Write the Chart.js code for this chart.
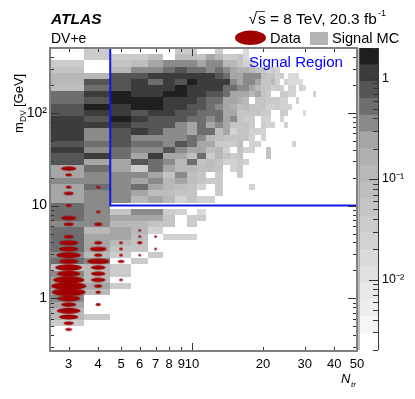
<!DOCTYPE html>
<html>
<head>
<meta charset="utf-8">
<script src="https://cdn.jsdelivr.net/npm/chart.js@4"></script>
<style>
  html, body { margin: 0; padding: 0; background: #fff; }
  #wrap { position: relative; width: 415px; height: 399px; overflow: hidden; }
  #mainChart { position: absolute; left: 0; top: 0; }
  #colorBar { position: absolute; left: 350px; top: 28px; }
</style>
</head>
<body>
<div id="wrap">
  <canvas id="mainChart" width="415" height="399"></canvas>
  <canvas id="colorBar" width="65" height="371"></canvas>
</div>
<script>
// Ntr tick values and labels
const xTickValues = [3, 4, 5, 6, 7, 8, 9, 10, 20, 30, 40, 50];
const yTickValues = [1, 10, 100];
const yTickLabels = ["1", "10", "10\u00B2"];
const colorTickValues = [1, 0.1, 0.01];
const colorTickLabels = ["1", "10\u207B\u00B9", "10\u207B\u00B2"];

// signal region boundary
const regionN = [4.5, 4.5, 50];
const regionM = [500, 10, 10];

// colour bar: one grey per band, lightest band first
const bandGreys = ["#ffffff", "#f6f6f6", "#eeeeee", "#e8e8e8", "#e0e0e0", "#dadada", "#d2d2d2", "#cbcbcb", "#c4c4c4",
  "#bebebe", "#b8b8b8", "#b0b0b0", "#a6a6a6", "#8a8a8a", "#6e6e6e", "#555555", "#3c3c3c", "#1f1f1f"];
const bandsPerDecade = 6;
const zMax = 2;

// mass bins: 15 per decade going down from 500 GeV
const massTop = 500;
const massBinsPerDecade = 15;
const massBinCount = 49;
const firstN = 3;

// signal MC, one list per mass bin from the top, first entry is Ntr = 3, value is the colour band
const signalBands = [
  [0,7,0,0,0,0,7,7,0,0,7,0,0,0,5],
  [0,7,7,7,9,0,9,9,8,12,10,7,7,8,5],
  [7,0,8,9,12,13,13,13,12,13,13,10,10,8,6,6],
  [8,0,10,13,13,14,15,14,14,13,14,13,12,11,11,10,8,8,6,7,6],
  [10,10,15,15,16,16,16,16,16,16,15,14,12,12,13,13,13,9,8,8,6,7,0,5,5,5],
  [10,15,15,16,14,16,15,17,16,16,16,16,13,12,13,13,12,8,8,10,6,0,6,5,5,5,5],
  [9,14,15,16,16,16,17,16,16,16,16,14,14,13,13,12,10,8,8,6,7,6,0,6,6,0,6,5],
  [14,16,17,16,16,17,17,16,16,15,15,14,12,12,12,10,12,8,7,0,0,7,7,6,6,0,0,0,0,0,6],
  [14,15,17,17,17,16,16,16,15,14,14,12,12,11,10,0,8,8,7,7,7,6,6,0,0,6],
  [15,17,16,17,17,16,16,15,15,14,13,12,11,9,10,8,8,8,6,6,7,6,6,6],
  [15,16,16,15,16,16,15,15,14,14,14,12,12,8,8,8,8,7,7,0,0,7,7,0,0,0,0,5],
  [16,15,17,16,15,15,15,14,14,13,14,12,13,8,7,7,0,6,6,0,0,6],
  [16,16,16,15,15,15,13,12,14,12,13,12,8,8,8,7,0,7,6,6,0,0,6],
  [16,13,15,16,15,13,13,12,14,14,9,12,6,8,8,6,6,6],
  [16,13,15,13,13,13,13,14,13,10,9,8,8,8,8,6,0,6],
  [15,14,15,14,14,13,15,14,12,12,7,7,7,9,0,6,6,0,0,0,0,0,0,0,6],
  [16,13,14,13,13,15,13,12,12,9,10,6,0,8,6,6,0,0,8],
  [15,16,14,12,16,12,12,9,14,7,10,8,7,8,0,0,0,0,8],
  [15,12,12,15,14,13,10,14,8,9,8,6,6,7,6],
  [12,14,12,7,14,12,10,10,9,9,8,0,6,7],
  [12,13,13,13,12,8,13,9,8,0,7,0,0,7],
  [13,13,13,12,13,10,12,9,8,7,7],
  [12,14,13,14,12,10,9,8,6,0,7,0,0,0,0,6],
  [12,13,13,12,9,9,8,8,0,0,7],
  [12,13,13,10,12,10,6,8,6,6],
  [14,13],
  [14,13,8,13,13,7,6,0,5],
  [14,13,12,12,12,8,0,7,7],
  [13,13,10,10,8,8,0,7],
  [14,10,12,10,6],
  [14,12,12,9,0,6,6,6],
  [14,12,10,8],
  [14,12,8,8],
  [13,10,7,0,7],
  [14,13,0,7],
  [9,10,7],
  [13,10,7],
  [12,10,0],
  [12,12,7],
  [12,10],
  [13],
  [12],
  [10],
  [10,7],
  [7],
];

// data: Ntr, mass bin index from the top, events in the bin
const dataN = [3,3,3,3,3,3,3,3,3,3,3,3,3,3,3,3,3,3,3,3,3,3,3,
  4,4,4,4,4,4,4,4,4,4,4,4,4,
  5,5,5,5,5, 6,6,6,6, 7,7];
const dataBin = [19,20,22,23,25,27,28,30,31,32,33,34,35,36,37,38,39,40,41,42,43,44,45,
  22,26,28,31,32,33,34,35,36,37,38,39,41,
  31,32,33,34,37, 29,30,31,33, 30,32];
const dataCount = [33,6,5,14,5,33,14,14,52,52,85,52,100,81,138,175,162,81,33,81,52,14,6,
  3,3,9,9,39,9,72,30,30,30,9,4,4,
  2,2,2,6,2, 1,1,4,1, 1,1];

function massEdge(bin) {
  return massTop * Math.pow(10, -bin / massBinsPerDecade);
}

// each ellipse gets its own little canvas for the point style
function ellipseFor(count) {
  const w = Math.sqrt(count) * 2.67;
  const h = 2 + 0.16 * w;
  const c = document.createElement("canvas");
  c.width = Math.ceil(w) + 2;
  c.height = Math.ceil(h) + 2;
  const g = c.getContext("2d");
  g.fillStyle = "#a00000";
  g.beginPath();
  g.ellipse(c.width / 2, c.height / 2, w / 2, h / 2, 0, 0, Math.PI * 2);
  g.fill();
  return c;
}

// draws signal cells under the datasets, through the scales
const cellPlugin = {
  id: "cells",
  beforeDatasetsDraw(chart) {
    const { ctx, scales: { x, y } } = chart;
    ctx.save();
    signalBands.forEach((row, r) => {
      const top = Math.round(y.getPixelForValue(massEdge(r)));
      const bottom = Math.round(y.getPixelForValue(massEdge(r + 1)));
      row.forEach((band, i) => {
        if (!band) return;
        const n = firstN + i;
        const left = Math.round(x.getPixelForValue(n - 0.5));
        const right = Math.round(x.getPixelForValue(n + 0.5));
        ctx.fillStyle = bandGreys[band];
        ctx.fillRect(left, top, right - left, bottom - top);
      });
    });
    ctx.restore();
  },
};

function drawTick(ctx, x1, y1, x2, y2) {
  ctx.beginPath();
  ctx.moveTo(x1, y1);
  ctx.lineTo(x2, y2);
  ctx.stroke();
}

// frame, inward ticks and the text around the plot
const framePlugin = {
  id: "frame",
  afterDatasetsDraw(chart) {
    const { ctx, chartArea: a, scales: { x, y } } = chart;
    ctx.save();
    ctx.strokeStyle = "#333";
    ctx.lineWidth = 1;
    [3, 4, 5, 6, 7, 8, 9, 10, 20, 30, 40].forEach((v) => {
      const px = Math.round(x.getPixelForValue(v)) + 0.5;
      const len = v == 10 ? 8 : 4;
      drawTick(ctx, px, a.bottom, px, a.bottom - len);
      drawTick(ctx, px, a.top, px, a.top + len);
    });
    [0.3, 0.4, 0.5, 0.6, 0.7, 0.8, 0.9, 1, 2, 3, 4, 5, 6, 7, 8, 9, 10, 20, 30, 40, 50, 60, 70, 80, 90, 100, 200, 300, 400].forEach((v) => {
      const py = Math.round(y.getPixelForValue(v)) + 0.5;
      const len = yTickValues.includes(v) ? 9 : 4;
      drawTick(ctx, a.left, py, a.left + len, py);
      drawTick(ctx, a.right, py, a.right - len, py);
    });
    ctx.strokeStyle = "#808080";
    ctx.lineWidth = 2;
    ctx.strokeRect(a.left, a.top, a.right - a.left, a.bottom - a.top);
    ctx.restore();

    ctx.save();
    ctx.fillStyle = "#000";
    ctx.textBaseline = "alphabetic";
    ctx.font = "italic bold 15.5px 'Liberation Sans'";
    ctx.fillText("ATLAS", 51, 23.5);
    ctx.font = "14px 'Liberation Sans'";
    ctx.fillText("DV+e", 51, 43);
    ctx.font = "15.4px 'Liberation Sans'";
    ctx.fillText("\u221A", 248.5, 24);
    ctx.fillRect(256, 11, 9, 0.7);
    ctx.fillText("s = 8 TeV, 20.3 fb", 258, 24);
    ctx.font = "9px 'Liberation Sans'";
    ctx.fillText("-1", 378, 15.5);
    ctx.font = "14.6px 'Liberation Sans'";
    ctx.fillText("Data", 270, 43);
    ctx.fillText("Signal MC", 332, 43);
    ctx.fillStyle = "#b4b4b4";
    ctx.fillRect(310, 32, 18, 13);
    ctx.fillStyle = "#a00000";
    ctx.beginPath();
    ctx.ellipse(250.5, 37.8, 15.5, 7.2, 0, 0, Math.PI * 2);
    ctx.fill();
    ctx.fillStyle = "#0000ff";
    ctx.font = "15.1px 'Liberation Sans'";
    ctx.fillText("Signal Region", 249, 67);

    ctx.fillStyle = "#000";
    ctx.font = "italic 13px 'Liberation Sans'";
    ctx.fillText("N", 341, 383);
    ctx.font = "italic 8px 'Liberation Sans'";
    ctx.fillText("tr", 351, 387);

    ctx.translate(23, 133);
    ctx.rotate(-Math.PI / 2);
    ctx.font = "13px 'Liberation Sans'";
    ctx.fillText("m", 0, 0);
    ctx.font = "8.5px 'Liberation Sans'";
    ctx.fillText("DV", 11, 3);
    ctx.font = "13px 'Liberation Sans'";
    ctx.fillText("[GeV]", 26, 0);
    ctx.restore();
  },
};

const configMain = {
  type: "scatter",
  data: {
    datasets: [
      {
        label: "Signal Region",
        type: "line",
        data: regionN.map((n, i) => ({ x: n, y: regionM[i] })),
        borderColor: "#1414e6",
        borderWidth: 2,
        pointRadius: 0,
        fill: false,
        tension: 0,
      },
      {
        label: "Data",
        data: dataN.map((n, i) => ({ x: n, y: Math.sqrt(massEdge(dataBin[i]) * massEdge(dataBin[i] + 1)) })),
        pointStyle: (c) => ellipseFor(dataCount[c.dataIndex]),
        pointRadius: 4,
      },
    ],
  },
  options: {
    responsive: false,
    animation: false,
    events: [],
    layout: { padding: { left: 0, right: 58, top: 48, bottom: 0 } },
    plugins: { legend: { display: false }, tooltip: { enabled: false } },
    scales: {
      x: {
        type: "logarithmic",
        min: 2.5,
        max: 50,
        grid: { display: false, drawTicks: false },
        border: { display: false },
        ticks: {
          autoSkip: false,
          maxRotation: 0,
          color: "#000",
          padding: 6,
          font: { family: "Liberation Sans", size: 13 },
          callback: (v) => String(v),
        },
        afterBuildTicks: (s) => { s.ticks = xTickValues.map((v) => ({ value: v })); },
        afterFit: (s) => { s.height = 48; },
      },
      y: {
        type: "logarithmic",
        min: massEdge(massBinCount),
        max: massTop,
        grid: { display: false, drawTicks: false },
        border: { display: false },
        ticks: {
          autoSkip: false,
          color: "#000",
          padding: 3,
          font: { family: "Liberation Sans", size: 14 },
          callback: (v) => yTickLabels[yTickValues.indexOf(v)],
        },
        afterBuildTicks: (s) => { s.ticks = yTickValues.map((v) => ({ value: v })); },
        afterFit: (s) => { s.width = 50; },
      },
    },
  },
  plugins: [cellPlugin, framePlugin],
};
const mainChart = new Chart(document.getElementById("mainChart"), configMain);

// colour bar is its own little bar chart, floating bars sharing one column
const bandEdges = bandGreys.map((g, i) => zMax * Math.pow(10, -(bandGreys.length - i) / bandsPerDecade));
const colorBarAxis = {
  id: "colorAxis",
  afterDatasetsDraw(chart) {
    const { ctx, chartArea: a, scales: { y } } = chart;
    ctx.save();
    ctx.strokeStyle = "#333";
    ctx.lineWidth = 1;
    drawTick(ctx, a.right + 0.5, a.top, a.right + 0.5, a.bottom);
    [2, 1, 0.9, 0.8, 0.7, 0.6, 0.5, 0.4, 0.3, 0.2, 0.1, 0.09, 0.08, 0.07, 0.06, 0.05, 0.04, 0.03, 0.02, 0.01, 0.009, 0.008, 0.007, 0.006, 0.005, 0.004, 0.003, 0.002].forEach((v) => {
      const py = Math.round(y.getPixelForValue(v)) + 0.5;
      const len = colorTickValues.includes(v) ? 9 : 5;
      drawTick(ctx, a.right - len, py, a.right, py);
    });
    ctx.strokeStyle = "#808080";
    drawTick(ctx, a.left, a.top, a.left, a.bottom);
    ctx.restore();
  },
};
const configColor = {
  type: "bar",
  data: {
    labels: ["z"],
    datasets: bandGreys.map((g, i) => ({
      data: [[bandEdges[i], i == bandGreys.length - 1 ? zMax : bandEdges[i + 1]]],
      backgroundColor: g,
      barPercentage: 1,
      categoryPercentage: 1,
      grouped: false,
    })),
  },
  options: {
    responsive: false,
    animation: false,
    events: [],
    layout: { padding: { left: 9, right: 0, top: 20, bottom: 49 } },
    plugins: { legend: { display: false }, tooltip: { enabled: false } },
    scales: {
      x: { display: false },
      y: {
        type: "logarithmic",
        position: "right",
        min: zMax * Math.pow(10, -bandGreys.length / bandsPerDecade),
        max: zMax,
        grid: { display: false, drawTicks: false },
        border: { display: false },
        ticks: {
          autoSkip: false,
          color: "#000",
          padding: 4,
          font: { family: "Liberation Sans", size: 12.5 },
          callback: (v) => colorTickLabels[colorTickValues.indexOf(v)],
        },
        afterBuildTicks: (s) => { s.ticks = colorTickValues.map((v) => ({ value: v })); },
        afterFit: (s) => { s.width = 37; },
      },
    },
  },
  plugins: [colorBarAxis],
};
const colorChart = new Chart(document.getElementById("colorBar"), configColor);
</script>
</body>
</html>
